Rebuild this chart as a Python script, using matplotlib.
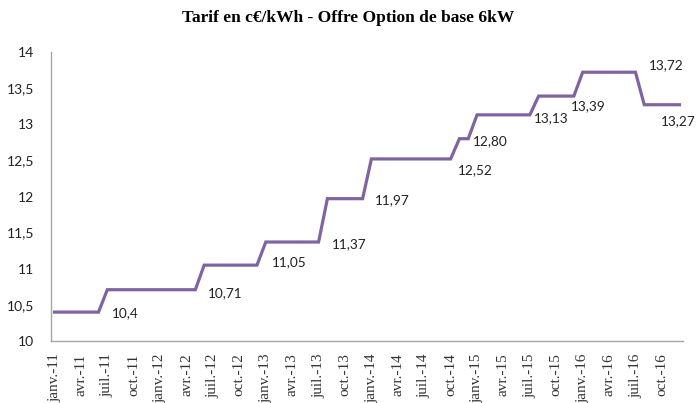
import numpy as np
import matplotlib
matplotlib.use("Agg")
import matplotlib.pyplot as plt
from matplotlib.ticker import FuncFormatter

# monthly tariff (c€/kWh), janv. 2011 -> déc. 2016
levels = [10.40, 10.71, 11.05, 11.37, 11.97, 12.52, 12.80, 13.13, 13.39, 13.72, 13.27]
months_per_level = [6, 11, 7, 7, 5, 10, 2, 7, 5, 7, 5]
level_labels = ["10,4", "10,71", "11,05", "11,37", "11,97", "12,52",
                "12,80", "13,13", "13,39", "13,72", "13,27"]
# label offsets in pixels from the last point of each level
label_dx = [13, 13, 15, 13, 12, 7, 5, 4, -3, 13, -19]
label_dy = [-1, -3, 3, -2, -1, -11, -2, -3, -10, 7, -16]

month_names = ["janv.", "avr.", "juil.", "oct."]
years = [11, 12, 13, 14, 15, 16]
tick_labels = [f"{m}-{y}" for y in years for m in month_names]

tarif = np.repeat(levels, months_per_level)
x = np.arange(len(tarif))

fig = plt.figure(figsize=(6.96, 4.03), dpi=100)
ax = fig.add_axes([51 / 696, 62 / 403, 632 / 696, 289 / 403])

ax.plot(x, tarif, color="#8064A2", linewidth=2.3, solid_joinstyle="miter")

ends = np.cumsum(months_per_level) - 1
for i, lab, dx, dy in zip(ends, level_labels, label_dx, label_dy):
    ax.annotate(lab, (x[i], tarif[i]), xytext=(dx, dy), textcoords="offset pixels",
                ha="left", va="center", fontsize=9.8, family="Lato", color="#222222")

ax.set_xlim(-0.4, len(tarif) - 0.6)
ax.set_ylim(10, 14)
ax.set_yticks(np.arange(10, 14.01, 0.5))
ax.yaxis.set_major_formatter(FuncFormatter(lambda v, p: f"{v:g}".replace(".", ",")))
ax.set_xticks(np.arange(0, len(tarif), 3))
ax.set_xticklabels(tick_labels, rotation=90, family="Liberation Serif", fontsize=11,
                   color="#333333")
for t in ax.get_yticklabels():
    t.set_family("Lato")
    t.set_fontsize(10)
    t.set_color("#222222")

ax.tick_params(axis="both", length=0)
ax.tick_params(axis="y", pad=12)
ax.tick_params(axis="x", pad=9)
for s in ["top", "right"]:
    ax.spines[s].set_visible(False)
for s in ["left", "bottom"]:
    ax.spines[s].set_color("#A6A6A6")
    ax.spines[s].set_linewidth(1.0)

fig.text(0.5, 1 - 18 / 403, "Tarif en c€/kWh - Offre Option de base 6kW",
         ha="center", va="center", fontsize=12.5, fontweight="bold",
         family="Liberation Serif")

fig.savefig("out.png", dpi=100)
